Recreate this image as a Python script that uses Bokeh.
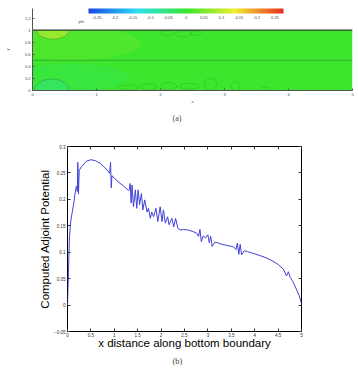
import numpy as np
from bokeh.plotting import figure
from bokeh.models import (Range1d, LinearAxis, FixedTicker, ColorBar, LinearColorMapper,
                          Label, Title, ColumnDataSource)
from bokeh.embed import file_html
from bokeh.resources import INLINE

# ---------------- data ----------------
# panel (a): field features (phi)
field_bg_value = 0.004
blob_x = [0.6, 0.6, 0.32, 0.30]
blob_y = [0.78, 0.22, 1.0, 0.0]
blob_w = [2.2, 1.8, 0.5, 0.55]
blob_h = [0.55, 0.45, 0.30, 0.38]
blob_val = [0.03, -0.02, 0.07, -0.04]

contour_line_y = [0.5]
loop_x = [1.50, 1.82, 2.13, 2.45, 2.78, 3.17, 3.64, 2.10, 2.35, 2.55]
loop_y = [0.05, 0.06, 0.07, 0.07, 0.10, 0.07, 0.03, 0.95, 0.94, 0.95]
loop_w = [0.30, 0.25, 0.25, 0.30, 0.20, 0.14, 0.15, 0.20, 0.25, 0.15]
loop_h = [0.08, 0.10, 0.12, 0.10, 0.20, 0.15, 0.06, 0.08, 0.10, 0.07]

cb_ticks = [-0.25, -0.2, -0.15, -0.1, -0.05, 0, 0.05, 0.1, 0.15, 0.2, 0.25]
cb_labels = ["-0.25", "-0.2", "-0.15", "-0.1", "-0.05", "0", "0.05", "0.1", "0.15", "0.2", "0.25"]
a_xticks = [0, 1, 2, 3, 4, 5]
a_xlabels = ["0", "1", "2", "3", "4", "5"]
a_yticks = [0, 0.2, 0.4, 0.6, 0.8, 1.0, 1.2]
a_ylabels = ["0", "0.2", "0.4", "0.6", "0.8", "1", "1.2"]

# panel (b): computed adjoint potential along bottom boundary
adj_x = [0.0, 0.02, 0.04, 0.06, 0.08, 0.10, 0.13, 0.16, 0.19, 0.21, 0.22, 0.235, 0.25, 0.30,
         0.40, 0.50, 0.60, 0.70, 0.80, 0.88, 0.90, 0.92, 0.935, 0.95, 1.00, 1.10, 1.20, 1.30,
         1.32, 1.34, 1.36, 1.38, 1.41, 1.45, 1.48, 1.51, 1.54, 1.58, 1.61, 1.65, 1.70, 1.73,
         1.77, 1.80, 1.84, 1.89, 1.93, 1.98, 2.02, 2.05, 2.09, 2.14, 2.17, 2.23, 2.27, 2.31,
         2.36, 2.41, 2.48, 2.58, 2.68, 2.76, 2.80, 2.83, 2.86, 2.90, 2.95, 3.00, 3.03, 3.06,
         3.09, 3.15, 3.20, 3.30, 3.45, 3.55, 3.60, 3.63, 3.66, 3.69, 3.72, 3.78, 3.85, 4.00,
         4.20, 4.35, 4.50, 4.62, 4.68, 4.72, 4.76, 4.82, 4.90, 4.95, 5.00]
adj_y = [0.0, 0.06, 0.125, 0.15, 0.165, 0.175, 0.19, 0.21, 0.225, 0.215, 0.27, 0.21, 0.255, 0.262,
         0.272, 0.275, 0.273, 0.268, 0.26, 0.252, 0.249, 0.27, 0.222, 0.245, 0.24, 0.232, 0.225, 0.217,
         0.218, 0.230, 0.193, 0.227, 0.186, 0.218, 0.183, 0.218, 0.190, 0.211, 0.180, 0.199, 0.176, 0.183,
         0.164, 0.176, 0.167, 0.183, 0.158, 0.186, 0.158, 0.180, 0.155, 0.167, 0.152, 0.164, 0.148, 0.164,
         0.145, 0.142, 0.143, 0.142, 0.139, 0.136, 0.130, 0.143, 0.120, 0.131, 0.127, 0.133, 0.118, 0.130,
         0.111, 0.119, 0.118, 0.115, 0.112, 0.110, 0.105, 0.117, 0.096, 0.115, 0.095, 0.103, 0.101, 0.097,
         0.091, 0.085, 0.077, 0.067, 0.055, 0.063, 0.052, 0.044, 0.028, 0.018, 0.003]
b_xticks = [0, 0.5, 1, 1.5, 2, 2.5, 3, 3.5, 4, 4.5, 5]
b_xlabels = ["0", "0.5", "1", "1.5", "2", "2.5", "3", "3.5", "4", "4.5", "5"]
b_yticks = [-0.05, 0, 0.05, 0.1, 0.15, 0.2, 0.25, 0.3]
b_ylabels = ["\u22120.05", "0", "0.05", "0.1", "0.15", "0.2", "0.25", "0.3"]

# ---------------- colour map (rainbow blue-cyan-green-yellow-red) ----------------
anchors = np.array([[25, 70, 230], [45, 225, 240], [55, 230, 45], [240, 238, 45], [232, 45, 35]], float)
t = np.linspace(0, 1, 256)
pos = np.linspace(0, 1, len(anchors))
palette = ["#%02x%02x%02x" % tuple(int(round(np.interp(tt, pos, anchors[:, k]))) for k in range(3)) for tt in t]
mapper = LinearColorMapper(palette=palette, low=-0.274, high=0.274)

FONT = "Liberation Sans"

# ---------------- panel (a) ----------------
p1 = figure(width=358, height=128, x_range=Range1d(0, 5), y_range=Range1d(0, 1.36),
            output_backend="svg", toolbar_location=None,
            min_border_left=32, min_border_right=6, min_border_top=8, min_border_bottom=33)
p1.outline_line_color = None
p1.grid.visible = False

src_bg = ColumnDataSource(dict(l=[0], r=[5], b=[0], t=[1], v=[field_bg_value]))
p1.quad(left="l", right="r", bottom="b", top="t", source=src_bg,
        fill_color={"field": "v", "transform": mapper}, line_color=None)
src_b = ColumnDataSource(dict(x=blob_x, y=blob_y, w=blob_w, h=blob_h, v=blob_val,
                              a=[0.5, 0.55, 1.0, 0.8]))
p1.ellipse(x="x", y="y", width="w", height="h", source=src_b,
           fill_color={"field": "v", "transform": mapper}, fill_alpha="a", line_color=None)
p1.ellipse(x=blob_x[2:], y=blob_y[2:], width=blob_w[2:], height=blob_h[2:],
           fill_color=None, line_color="#3a6a30", line_width=0.5, line_alpha=0.7)
p1.ellipse(x=loop_x, y=loop_y, width=loop_w, height=loop_h,
           fill_color=None, line_color="#3a7a30", line_width=0.5, line_alpha=0.5)
p1.segment(x0=[0] * len(contour_line_y), x1=[5] * len(contour_line_y), y0=contour_line_y,
           y1=contour_line_y, line_color="#2f7a2f", line_width=0.5)
# blank area above the domain
p1.quad(left=[0], right=[5], bottom=[1], top=[1.36], fill_color="white", line_color=None)
p1.segment(x0=[0, 0], x1=[5, 5], y0=[0, 1], y1=[0, 1], line_color="#1f3a1f", line_width=1.2)

for ax, ticks, labels in ((p1.xaxis[0], a_xticks, a_xlabels), (p1.yaxis[0], a_yticks, a_ylabels)):
    ax.ticker = FixedTicker(ticks=ticks)
    ax.major_label_overrides = {k: v for k, v in zip(ticks, labels)}
    ax.major_label_text_font_size = "4px"
    ax.major_label_text_color = "#444444"
    ax.major_label_text_font = FONT
    ax.axis_label_text_font = FONT
    ax.axis_label_text_font_size = "4px"
    ax.axis_label_text_font_style = "normal"
    ax.axis_label_text_color = "#444444"
    ax.minor_tick_line_color = None
    ax.major_tick_in = 2
    ax.major_tick_out = 0
    ax.axis_line_color = "#555555"
    ax.major_tick_line_color = "#555555"
    ax.major_label_standoff = 2
p1.xaxis.axis_label = "x"
p1.xaxis.axis_label_standoff = 0
p1.yaxis.axis_label = "y"
p1.yaxis.axis_label_standoff = 12

cb = ColorBar(color_mapper=mapper, orientation="horizontal", location=(56, 69), width=195, height=5,
              ticker=FixedTicker(ticks=cb_ticks),
              major_label_overrides={k: v for k, v in zip(cb_ticks, cb_labels)},
              major_label_text_font_size="4px", major_label_text_font=FONT,
              major_label_text_color="#444444", label_standoff=2, padding=0,
              major_tick_line_color=None, bar_line_color=None, border_line_color=None,
              background_fill_alpha=0)
p1.add_layout(cb, "center")
p1.add_layout(Label(x=0.72, y=1.14, text="phi", text_font_size="4px", text_font=FONT,
                    text_color="#444444", text_baseline="middle"))
p1.add_layout(Title(text="(a)", align="left", offset=140, standoff=11, text_font_size="8px",
                    text_font="Liberation Serif", text_font_style="normal"), "below")

# ---------------- panel (b) ----------------
p2 = figure(width=358, height=241, x_range=Range1d(0, 5), y_range=Range1d(-0.05, 0.3),
            output_backend="svg", toolbar_location=None,
            min_border_left=67, min_border_right=57, min_border_top=18, min_border_bottom=38)
p2.grid.visible = False
p2.outline_line_color = "black"
p2.outline_line_width = 1

p2.line(adj_x, adj_y, line_color="#4040d8", line_width=1)

p2.add_layout(LinearAxis(), "above")
p2.add_layout(LinearAxis(), "right")
for ax in p2.axis:
    ax.minor_tick_line_color = None
    ax.major_tick_in = 3
    ax.major_tick_out = 0
    ax.axis_line_color = None
    ax.major_tick_line_color = "#333333"
    ax.major_label_text_font_size = "4.5px"
    ax.major_label_text_font = FONT
    ax.major_label_text_color = "#333333"
    ax.major_label_standoff = 2
    ax.axis_label_text_font = FONT
    ax.axis_label_text_font_size = "11.5px"
    ax.axis_label_text_font_style = "normal"
    ax.axis_label_text_color = "black"
    ax.axis_label_standoff = 0
for ax in p2.xaxis:
    ax.ticker = FixedTicker(ticks=b_xticks)
    ax.major_label_overrides = {k: v for k, v in zip(b_xticks, b_xlabels)}
for ax in p2.yaxis:
    ax.ticker = FixedTicker(ticks=b_yticks)
    ax.major_label_overrides = {k: v for k, v in zip(b_yticks, b_ylabels)}
for ax in (p2.above[0], p2.right[0]):
    ax.major_label_text_color = None
    ax.major_label_text_font_size = "1px"
p2.below[0].axis_label = "x distance along bottom boundary"
p2.below[0].major_label_standoff = 1
p2.below[0].axis_label_standoff = -3
p2.left[0].axis_label = "Computed Adjoint Potential"
p2.add_layout(Title(text="(b)", align="left", offset=105, standoff=4, text_font_size="8.5px",
                    text_font="Liberation Serif", text_font_style="normal"), "below")

open("out.html", "w").write(file_html([p1, p2], INLINE))
